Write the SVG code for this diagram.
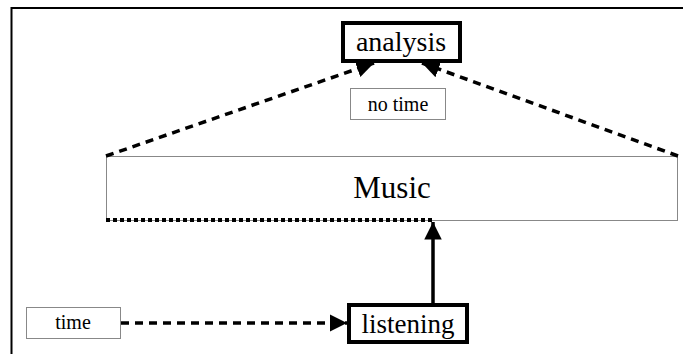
<svg xmlns="http://www.w3.org/2000/svg" width="683" height="354" viewBox="0 0 683 354">
  <defs>
    <marker id="arrow" viewBox="0 0 10 10" refX="10" refY="5" markerWidth="5" markerHeight="5" orient="auto" markerUnits="strokeWidth">
      <path d="M0,0 L10,5 L0,10 z" fill="#000"/>
    </marker>
    <style>
      text { font-family: "Liberation Serif", "Times New Roman", serif; fill: #000; text-anchor: middle; }
      .thick { fill: #fff; stroke: #000; stroke-width: 4; }
      .thin { fill: #fff; stroke: #888; stroke-width: 1; }
      .dash { fill: none; stroke: #000; stroke-width: 3.5; stroke-dasharray: 8 6; }
      .dot { fill: none; stroke: #000; stroke-width: 4; stroke-dasharray: 4 3; }
      .solid { fill: none; stroke: #000; stroke-width: 3.5; }
    </style>
  </defs>
  <rect width="683" height="354" fill="#fff"/>
  <!-- frame edges -->
  <path d="M11.5,354 L11.5,8 L683,8" fill="none" stroke="#000" stroke-width="2"/>

  <g id="music">
    <rect class="thin" x="106.5" y="156.5" width="571" height="64"/>
    <text x="392" y="198" font-size="31">Music</text>
  </g>

  <g id="connectors">
    <path class="dot" d="M106,220 L432,220"/>
    <path class="dash" d="M106,156 L374,63" marker-end="url(#arrow)"/>
    <path class="dash" d="M678,156 L422,63" marker-end="url(#arrow)"/>
    <path class="solid" d="M433,303 L433,222" marker-end="url(#arrow)"/>
    <path class="dash" d="M121,323 L347,323" marker-end="url(#arrow)"/>
  </g>

  <g id="analysis">
    <rect class="thick" x="343" y="23" width="117" height="38"/>
    <text x="401" y="51" font-size="28">analysis</text>
  </g>

  <g id="no-time">
    <rect class="thin" x="350.5" y="88.5" width="95" height="31"/>
    <text x="398" y="111" font-size="20">no time</text>
  </g>

  <g id="listening">
    <rect class="thick" x="349" y="305" width="118" height="37"/>
    <text x="408" y="333" font-size="27">listening</text>
  </g>

  <g id="time">
    <rect class="thin" x="26.5" y="307.5" width="94" height="31"/>
    <text x="73" y="329" font-size="20">time</text>
  </g>
</svg>
